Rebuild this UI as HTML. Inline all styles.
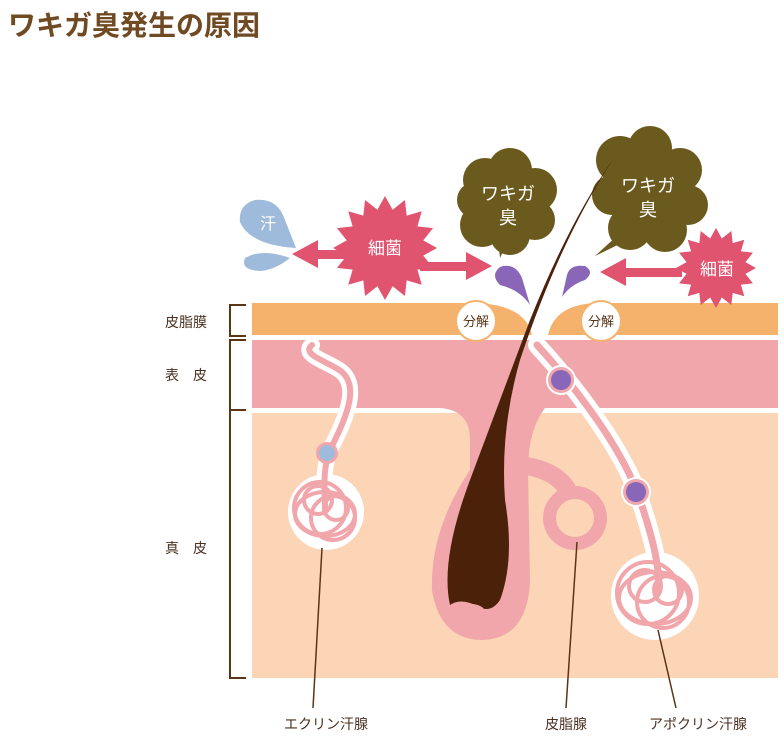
<!DOCTYPE html>
<html><head><meta charset="utf-8"><style>
html,body{margin:0;padding:0;background:#fff;width:784px;height:743px;overflow:hidden}
svg{display:block}
text{font-family:"Liberation Sans","Noto Sans CJK JP",sans-serif}
</style></head><body>
<svg width="784" height="743" viewBox="0 0 784 743" xmlns="http://www.w3.org/2000/svg">
<defs>
<polygon id="star" points="1,0 .736,.146 .924,.383 .623,.417 .707,.707 .417,.623 .383,.924 .146,.736 0,1 -.146,.736 -.383,.924 -.417,.623 -.707,.707 -.623,.417 -.924,.383 -.736,.146 -1,0 -.736,-.146 -.924,-.383 -.623,-.417 -.707,-.707 -.417,-.623 -.383,-.924 -.146,-.736 0,-1 .146,-.736 .383,-.924 .417,-.623 .707,-.707 .623,-.417 .924,-.383 .736,-.146"/>
</defs>
<text x="8" y="35" font-size="28" font-weight="bold" fill="#704a22">ワキガ臭発生の原因</text>

<rect x="252" y="413" width="526" height="265" fill="#fcd4b6"/>
<rect x="252" y="340" width="526" height="68" fill="#f0a6aa"/>
<path d="M252 303 H470 Q525 303 532 335 H252 Z" fill="#f4b26c"/>
<path d="M778 303 H600 Q555 303 548 335 H778 Z" fill="#f4b26c"/>

<g stroke="#5a3516" stroke-width="2" fill="none">
<path d="M246 305 H230 V336 H246"/>
<path d="M246 340 H230 V410 H246"/>
<path d="M230 410 V678 H246"/>
</g>
<g font-size="14" fill="#4a3020">
<text x="165" y="327">皮脂膜</text>
<text x="165" y="380">表　皮</text>
<text x="165" y="553">真　皮</text>
</g>

<!-- eccrine gland -->
<g fill="none" stroke-linecap="round">
<path d="M312 345 C300 355 330 362 342 372 C360 388 345 420 330 450 C322 470 325 490 325 510" stroke="#fff" stroke-width="16"/>
<circle cx="326" cy="512" r="38" fill="#fff" stroke="none"/>
<path d="M312 345 C300 355 330 362 342 372 C360 388 345 420 330 450 C322 470 325 490 325 510" stroke="#f0a6aa" stroke-width="6"/>
<g stroke="#f0a6aa" stroke-width="4">
<circle cx="320" cy="508" r="26"/><circle cx="333" cy="518" r="22"/><ellipse cx="325" cy="514" rx="30" ry="22"/><circle cx="318" cy="500" r="14"/><circle cx="336" cy="508" r="12"/>
</g>
</g>
<circle cx="327" cy="453" r="11" fill="#f0a6aa"/><circle cx="327" cy="453" r="8" fill="#9fbbdc"/>

<!-- apocrine gland -->
<g fill="none" stroke-linecap="round">
<path d="M537 345 C560 370 620 440 640 500 C655 545 660 570 658 590" stroke="#fff" stroke-width="18"/>
<circle cx="655" cy="596" r="44" fill="#fff" stroke="none"/>
<path d="M537 345 C560 370 620 440 640 500 C655 545 660 570 658 590" stroke="#f0a6aa" stroke-width="7"/>
<g stroke="#f0a6aa" stroke-width="4">
<circle cx="648" cy="593" r="31"/><circle cx="663" cy="602" r="26"/><ellipse cx="655" cy="598" rx="36" ry="26"/><circle cx="645" cy="586" r="16"/><circle cx="668" cy="590" r="14"/>
</g>
</g>
<circle cx="561" cy="380" r="15" fill="#fff"/><circle cx="561" cy="380" r="13" fill="#f0a6aa"/><circle cx="561" cy="380" r="10" fill="#8a66b8"/>
<circle cx="636" cy="492" r="15" fill="#fff"/><circle cx="636" cy="492" r="13" fill="#f0a6aa"/><circle cx="636" cy="492" r="10" fill="#8a66b8"/>

<!-- follicle -->
<path d="M440 408 Q470 410 470 440 L470 470 Q430 530 432 590 Q440 640 483 640 Q528 638 530 580 L528 470 Q528 430 545 408 Z" fill="#f0a6aa"/>
<path d="M520 465 Q560 470 570 495" stroke="#f0a6aa" stroke-width="18" fill="none"/>
<circle cx="575" cy="518" r="32" fill="#f0a6aa"/>
<circle cx="575" cy="518" r="19" fill="#fcd4b6"/>

<g font-size="13" fill="#5a3516" text-anchor="middle">
<circle cx="476" cy="321" r="20" fill="#fff" stroke="#f4b26c" stroke-width="2"/>
<text x="476" y="326">分解</text>
<circle cx="601" cy="321" r="20" fill="#fff" stroke="#f4b26c" stroke-width="2"/>
<text x="601" y="326">分解</text>
</g>

<path d="M296 248 Q250 245 240 222 Q238 205 255 200 Q275 198 283 215 Z" fill="#9fbbdc"/>
<path d="M290 258 Q262 248 245 258 Q240 270 260 271 Q275 270 290 258 Z" fill="#9fbbdc"/>
<text x="268" y="229" font-size="16" fill="#fff" text-anchor="middle">汗</text>
<path d="M530 305 Q520 290 500 285 Q490 275 500 267 Q515 262 522 278 Z" fill="#8a66b8"/>
<path d="M562 297 Q570 285 585 280 Q595 272 585 266 Q570 264 567 275 Z" fill="#8a66b8"/>

<g fill="#e05470">
<rect x="315" y="250" width="40" height="9"/>
<polygon points="292,254 318,240 318,268"/>
<rect x="420" y="262" width="50" height="9"/>
<polygon points="492,266 466,252 466,280"/>
<rect x="622" y="268" width="60" height="9"/>
<polygon points="600,272 626,258 626,286"/>
</g>
<use href="#star" transform="translate(385,248) scale(52)" fill="#e05470"/>
<use href="#star" transform="translate(716,268) scale(40)" fill="#e05470"/>
<g font-size="17" fill="#fff" text-anchor="middle">
<text x="385" y="254">細菌</text>
<text x="717" y="275">細菌</text>
</g>

<g fill="#6b5a1e">
<circle cx="485" cy="180" r="22"/><circle cx="510" cy="170" r="22"/><circle cx="535" cy="190" r="22"/><circle cx="535" cy="220" r="20"/><circle cx="510" cy="235" r="20"/><circle cx="482" cy="225" r="22"/><circle cx="475" cy="200" r="18"/><circle cx="508" cy="205" r="30"/>
<polygon points="498,238 512,232 500,258"/>
<circle cx="620" cy="160" r="24"/><circle cx="650" cy="148" r="22"/><circle cx="680" cy="170" r="22"/><circle cx="688" cy="205" r="20"/><circle cx="665" cy="230" r="22"/><circle cx="630" cy="228" r="22"/><circle cx="612" cy="195" r="20"/><circle cx="648" cy="192" r="35"/>
<polygon points="618,235 632,238 595,256"/>
</g>
<g font-size="18" fill="#fff" text-anchor="middle">
<text x="508" y="200">ワキガ</text><text x="508" y="224">臭</text>
<text x="648" y="192">ワキガ</text><text x="648" y="216">臭</text>
</g>

<!-- hair on top -->
<path d="M614 158 Q560 240 520 360 Q500 430 505 500 Q515 560 500 600 Q490 615 475 605 Q460 598 450 605 Q440 560 470 480 Q500 400 530 320 Q570 220 614 158 Z" fill="#4b2109"/>
<ellipse cx="471" cy="612" rx="14" ry="8" fill="#f0a6aa"/>

<g stroke="#5a3516" stroke-width="1.5">
<line x1="322" y1="548" x2="313" y2="708"/>
<line x1="577" y1="542" x2="566" y2="708"/>
<line x1="658" y1="630" x2="676" y2="708"/>
</g>
<g font-size="14" fill="#4a3020" text-anchor="middle">
<text x="326" y="729">エクリン汗腺</text>
<text x="566" y="729">皮脂腺</text>
<text x="698" y="729">アポクリン汗腺</text>
</g>
</svg>
</body></html>
